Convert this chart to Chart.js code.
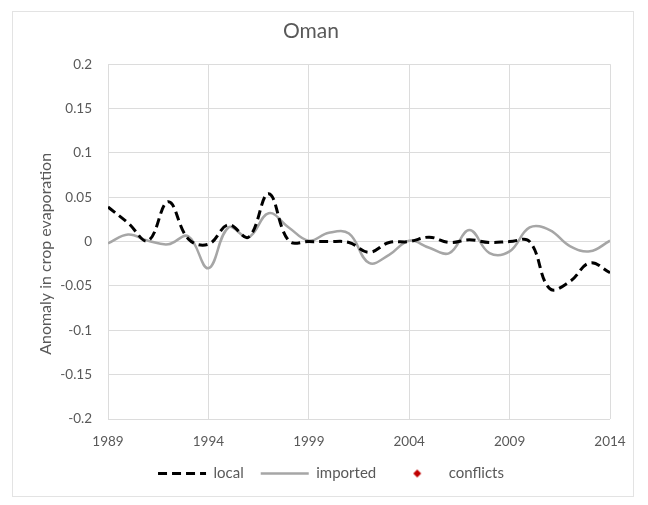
<!DOCTYPE html>
<html>
<head>
<meta charset="utf-8">
<script src="https://cdn.jsdelivr.net/npm/chart.js@4"></script>
<style>
  html, body { margin: 0; padding: 0; background: #fff; }
  #wrap { position: relative; width: 648px; height: 505px; }
  #frame { position: absolute; left: 12px; top: 11px; width: 622px; height: 486px; border: 1px solid #e3e3e3; box-sizing: border-box; }
  canvas { position: absolute; left: 0; top: 0; }
</style>
</head>
<body>
<div id="wrap">
  <div id="frame"></div>
  <canvas id="chart" width="648" height="505"></canvas>
</div>
<script>
const years = [1989, 1990, 1991, 1992, 1993, 1994, 1995, 1996, 1997, 1998, 1999, 2000, 2001,
  2002, 2003, 2004, 2005, 2006, 2007, 2008, 2009, 2010, 2011, 2012, 2013, 2014];
const local = [0.039, 0.021, 0.001, 0.045, 0.003, -0.003, 0.019, 0.005, 0.054, 0.001, 0, 0, -0.001,
  -0.012, -0.001, 0, 0.005, -0.001, 0.002, -0.001, 0, 0, -0.053, -0.045, -0.024, -0.035];
const imported = [-0.002, 0.008, 0.001, -0.003, 0.006, -0.030, 0.016, 0.005, 0.032, 0.016, 0.001, 0.010, 0.009,
  -0.024, -0.015, 0.001, -0.007, -0.013, 0.013, -0.013, -0.011, 0.016, 0.013, -0.005, -0.011, 0.001];
const conflicts = [];
const xTicks = [1989, 1994, 1999, 2004, 2009, 2014];
const yTicks = [0.2, 0.15, 0.1, 0.05, 0, -0.05, -0.1, -0.15, -0.2];

const textColor = '#595959';
const fontFamily = 'Lato, "Open Sans", sans-serif';

// little red diamond for the legend entry
const diamond = document.createElement('canvas');
diamond.width = 10;
diamond.height = 10;
const dctx = diamond.getContext('2d');
dctx.fillStyle = '#c00000';
dctx.beginPath();
dctx.moveTo(5, 1);
dctx.lineTo(9, 5);
dctx.lineTo(5, 9);
dctx.lineTo(1, 5);
dctx.closePath();
dctx.fill();

const toPoints = vals => years.map((y, i) => ({ x: y, y: vals[i] }));

// legend sits a bit right of the plot centre, like the original
const legendShift = {
  id: 'legendShift',
  afterLayout(chart) {
    chart.legend.left += 20;
    chart.legend.right += 20;
  }
};

const config = {
  type: 'line',
  data: {
    datasets: [
      {
        label: 'local',
        data: toPoints(local),
        borderColor: '#000000',
        backgroundColor: '#000000',
        borderWidth: 3,
        borderDash: [9, 5],
        pointRadius: 0,
        pointStyle: 'line',
        tension: 0.4
      },
      {
        label: 'imported',
        data: toPoints(imported),
        borderColor: '#a6a6a6',
        backgroundColor: '#a6a6a6',
        borderWidth: 2.5,
        pointRadius: 0,
        pointStyle: 'line',
        tension: 0.4
      },
      {
        label: 'conflicts',
        data: conflicts,
        borderColor: '#c00000',
        backgroundColor: '#c00000',
        showLine: false,
        pointStyle: diamond
      }
    ]
  },
  options: {
    responsive: false,
    animation: false,
    layout: { padding: { left: 12, right: 38, top: 0, bottom: 14 } },
    plugins: {
      title: {
        display: true,
        text: 'Oman',
        color: textColor,
        font: { family: fontFamily, size: 21, weight: 'normal' },
        padding: { top: 19, bottom: 20 }
      },
      legend: {
        position: 'bottom',
        labels: {
          usePointStyle: true,
          pointStyleWidth: 48,
          boxHeight: 13,
          padding: 17,
          color: textColor,
          font: { family: fontFamily, size: 15 },
          generateLabels(chart) {
            const items = Chart.defaults.plugins.legend.labels.generateLabels(chart);
            items.forEach(item => {
              const ds = chart.data.datasets[item.datasetIndex];
              item.lineDash = ds.borderDash || [];
              item.lineWidth = ds.showLine === false ? 0 : ds.borderWidth;
            });
            return items;
          }
        }
      },
      tooltip: { enabled: false }
    },
    scales: {
      x: {
        type: 'linear',
        min: 1989,
        max: 2014,
        afterBuildTicks: s => { s.ticks = xTicks.map(v => ({ value: v })); },
        afterFit: s => { s.height = 30; },
        grid: { color: '#dcdcdc', drawTicks: false },
        border: { display: false },
        ticks: {
          color: textColor,
          padding: 15,
          maxRotation: 0,
          font: { family: fontFamily, size: 13.5 },
          callback: v => String(v)
        }
      },
      y: {
        min: -0.2,
        max: 0.2,
        afterBuildTicks: s => { s.ticks = yTicks.map(v => ({ value: v })); },
        afterFit: s => { s.width = 96; },
        grid: { color: '#dcdcdc', drawTicks: false },
        border: { display: false },
        title: {
          display: true,
          // trailing spaces nudge the rotated title down a little, as in the original
          text: 'Anomaly in crop evaporation      ',
          color: textColor,
          font: { family: fontFamily, size: 16 },
          padding: { top: 24, bottom: 0 }
        },
        ticks: {
          color: textColor,
          padding: 16,
          font: { family: fontFamily, size: 13.5 },
          callback: v => String(Number(v.toFixed(2)))
        }
      }
    }
  },
  plugins: [legendShift]
};

new Chart(document.getElementById('chart').getContext('2d'), config);
</script>
</body>
</html>
